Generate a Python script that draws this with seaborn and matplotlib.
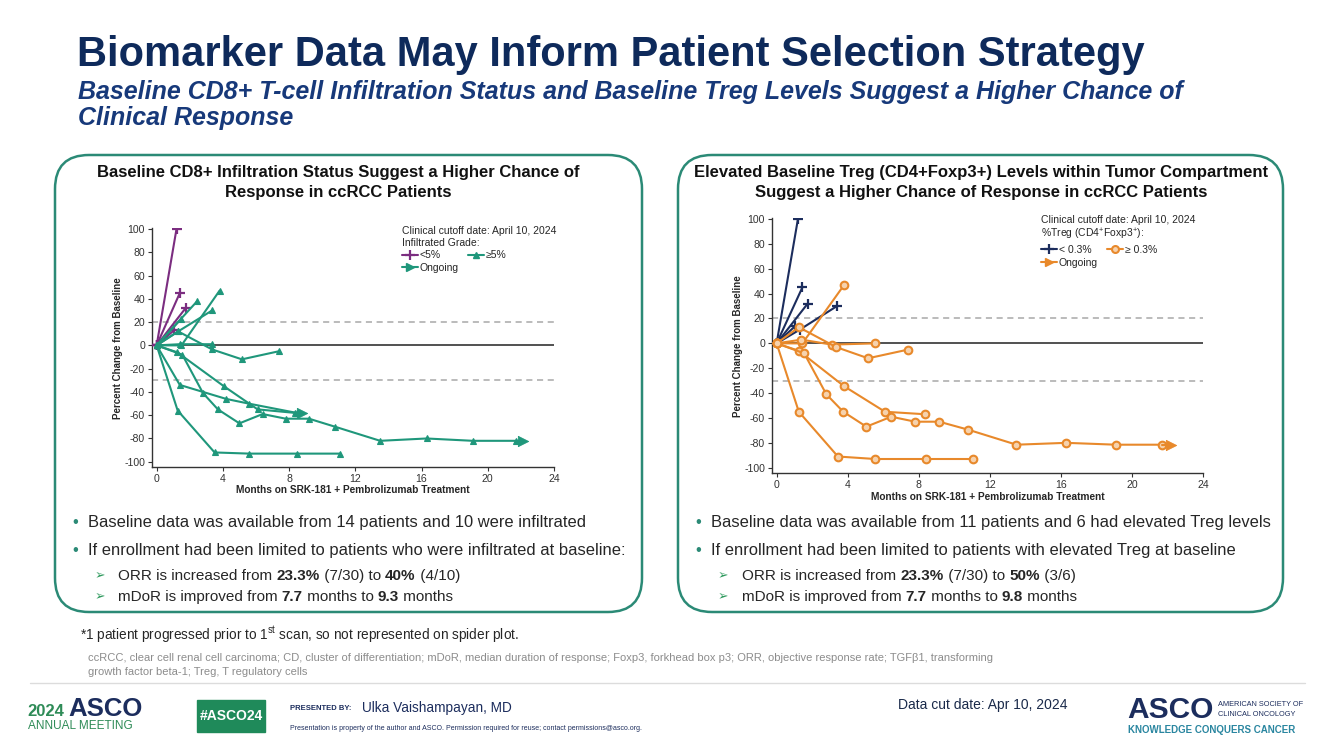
import numpy as np
import pandas as pd
import matplotlib
matplotlib.use("Agg")
import matplotlib.pyplot as plt
from matplotlib.patches import FancyBboxPatch, Rectangle
from matplotlib.lines import Line2D
import seaborn as sns

sns.set_theme(style="ticks")
plt.rcParams["font.family"] = ["Liberation Sans", "DejaVu Sans"]
plt.rcParams["axes.unicode_minus"] = False
plt.rcParams["mathtext.fontset"] = "custom"
plt.rcParams["mathtext.rm"] = "Liberation Sans"
plt.rcParams["mathtext.it"] = "Liberation Sans:italic"
plt.rcParams["mathtext.bf"] = "Liberation Sans:bold"
NARROW = ["Liberation Sans Narrow", "Liberation Sans", "DejaVu Sans"]

# ---------------------------------------------------------
# DATA
# ---------------------------------------------------------
# Left: CD8+ infiltration grade
cd8_months = [
    [0, 1.2], [0, 1.4], [0, 1.75], [0, 1.05],
    [0, 1.5], [0, 2.45], [0, 1.5, 3.8], [0, 1.3, 3.35],
    [0, 1.3, 3.35, 5.15, 7.4], [0, 1.4, 3.35],
    [0, 1.25, 4.05, 6.1, 8.35],
    [0, 1.4, 4.2, 5.55, 8.45],
    [0, 1.55, 2.8, 3.7, 5.0, 6.4, 7.8, 9.2, 10.8, 13.5, 16.3, 19.1, 21.7],
    [0, 1.27, 3.5, 5.6, 8.45, 11.1],
]
cd8_pct = [
    [0, 100], [0, 45], [0, 32], [0, 13],
    [0, 23], [0, 38], [0, 0, 47], [0, 12, 30],
    [0, 12, -3.5, -12, -5], [0, 1, 1],
    [0, -6, -35, -55, -58],
    [0, -34, -46, -50, -58],
    [0, -8, -41, -55, -67, -59, -63, -63, -70, -82, -80, -82, -82],
    [0, -56, -92, -93, -93, -93],
]
cd8_group = ["<5%"] * 4 + ["≥5%"] * 10
cd8_ongoing = [None] * 11 + [8.75, 22.15, None]

# Right: %Treg (CD4+Foxp3+)
treg_months = [
    [0, 1.2], [0, 1.45], [0, 1.75], [0, 1.3, 3.4], [0, 1.05],
    [0, 1.45, 3.8], [0, 1.4, 3.1, 5.55], [0, 1.25, 3.35, 5.15, 7.4],
    [0, 1.25, 3.8, 6.1, 8.35],
    [0, 1.55, 2.8, 3.75, 5.05, 6.45, 7.8, 9.15, 10.8, 13.5, 16.3, 19.1, 21.7],
    [0, 1.25, 3.45, 5.55, 8.4, 11.05],
]
treg_pct = [
    [0, 100], [0, 45], [0, 32], [0, 11, 30], [0, 14],
    [0, 0, 47], [0, 3, -1, 0], [0, 13, -3, -12, -5],
    [0, -6, -34.5, -55, -57],
    [0, -8, -41, -55, -67, -59, -63, -63, -69.5, -81.5, -80, -81.5, -81.5],
    [0, -55, -91, -93, -93, -93],
]
treg_group = ["< 0.3%"] * 5 + ["≥ 0.3%"] * 6
treg_ongoing = [None] * 9 + [22.2, None]

x_ticks = [0, 4, 8, 12, 16, 20, 24]
y_ticks = list(range(-100, 101, 20))
ref_lines = [20, -30]

# colours
TITLE = "#0e2a5b"
SUB = "#17397a"
BOX = "#2b8a76"
PURPLE = "#7b2d80"
GREEN = "#1f977b"
NAVY = "#1c2d5d"
ORANGE = "#e8892b"
TXT = "#262626"

W, H = 1333, 749
fig = plt.figure(figsize=(W / 100, H / 100), dpi=100)
fig.patch.set_facecolor("white")
renderer = fig.canvas.get_renderer()


def fx(x):
    return x / W


def fy(y):
    return 1 - y / H


def txt(x, y, s, **kw):
    kw.setdefault("va", "center")
    return fig.text(fx(x), fy(y), s, **kw)


def run_width(s, **kw):
    t = fig.text(0, 0, s + "|", **kw)
    w1 = t.get_window_extent(renderer).width
    t.remove()
    t = fig.text(0, 0, "|", **kw)
    w2 = t.get_window_extent(renderer).width
    t.remove()
    return w1 - w2


def rich(x, y, runs, size, color=TXT):
    for s, bold in runs:
        kw = dict(fontsize=size, color=color, fontweight="bold" if bold else "normal")
        txt(x, y, s, **kw)
        x += run_width(s, **kw)


def rbox(x0, y0, x1, y1):
    p = FancyBboxPatch((x0 / 100, (H - y1) / 100), (x1 - x0) / 100, (y1 - y0) / 100,
                       boxstyle="round,pad=0,rounding_size=0.34",
                       transform=fig.dpi_scale_trans, fc="none", ec=BOX, lw=1.8)
    fig.add_artist(p)


def add_ax(l, r, t, b):
    return fig.add_axes([fx(l), fy(b), (r - l) / W, (b - t) / H])


def spider(ax, months, pct, group, ongoing, styles, xmin, ymax):
    rows = []
    for i, (m, p, g) in enumerate(zip(months, pct, group)):
        for a, b in zip(m, p):
            rows.append(dict(patient=i, month=a, pct=b, group=g))
    df = pd.DataFrame(rows)

    ax.axhline(0, color="#222222", lw=1.1, zorder=1)
    for yv in ref_lines:
        ax.axhline(yv, color="#a8a8a8", lw=1.1, ls=(0, (4, 3)), zorder=1)

    for g, st in styles.items():
        sub = df[df["group"] == g]
        sns.lineplot(data=sub, x="month", y="pct", units="patient", estimator=None,
                     sort=False, color=st["color"], lw=1.5, marker=st["marker"],
                     ms=st["ms"], mew=st["mew"], mec=st["color"], mfc=st["mfc"],
                     ax=ax, legend=False, zorder=3)

    # ongoing arrows
    for m, p, g, arr in zip(months, pct, group, ongoing):
        if arr is None:
            continue
        c = styles[g]["color"]
        ax.plot([m[-1], arr], [p[-1], p[-1]], color=c, lw=1.5, zorder=3)
        sns.scatterplot(x=[arr], y=[p[-1]], marker=">", s=55, color=c, ec=c,
                        ax=ax, legend=False, zorder=4)

    ax.set_xlim(xmin, 24)
    ax.set_ylim(-104.5, ymax)
    ax.set_xticks(x_ticks)
    ax.set_yticks(y_ticks)
    sns.despine(ax=ax)
    for s in ("left", "bottom"):
        ax.spines[s].set_color("#333333")
        ax.spines[s].set_linewidth(1.0)
    ax.tick_params(labelsize=7.6, length=3, width=0.8, color="#333333",
                   labelcolor="#333333", pad=2)
    ax.set_xlabel("Months on SRK-181 + Pembrolizumab Treatment", fontsize=7.3,
                  fontweight="bold", color="#262626", labelpad=1)
    ax.set_ylabel("Percent Change from Baseline", fontsize=7.0, fontweight="bold",
                  color="#262626", labelpad=1)
    ax.set_facecolor("none")
    ax.grid(False)


# ---------------------------------------------------------
# TITLES
# ---------------------------------------------------------
txt(77, 55, "Biomarker Data May Inform Patient Selection Strategy", fontsize=30,
    fontweight="bold", color=TITLE)
txt(78, 92, "Baseline CD8+ T-cell Infiltration Status and Baseline Treg Levels Suggest a Higher Chance of",
    fontsize=18, fontweight="bold", style="italic", color=SUB)
txt(78, 118, "Clinical Response", fontsize=18, fontweight="bold", style="italic", color=SUB)

# ---------------------------------------------------------
# PANEL BOXES
# ---------------------------------------------------------
rbox(55, 155, 642, 612)
rbox(678, 155, 1283, 612)

txt(338, 173, "Baseline CD8+ Infiltration Status Suggest a Higher Chance of",
    ha="center", fontsize=12, fontweight="bold", color="#111111", family=NARROW)
txt(338, 193, "Response in ccRCC Patients", ha="center", fontsize=12,
    fontweight="bold", color="#111111", family=NARROW)
txt(981, 173, "Elevated Baseline Treg (CD4+Foxp3+) Levels within Tumor Compartment",
    ha="center", fontsize=12, fontweight="bold", color="#111111", family=NARROW)
txt(981, 193, "Suggest a Higher Chance of Response in ccRCC Patients", ha="center",
    fontsize=12, fontweight="bold", color="#111111", family=NARROW)

# ---------------------------------------------------------
# SPIDER PLOTS
# ---------------------------------------------------------
ax1 = add_ax(152, 554, 228.4, 467)
spider(ax1, cd8_months, cd8_pct, cd8_group, cd8_ongoing,
       {"<5%": dict(color=PURPLE, marker="+", ms=6.5, mew=1.6, mfc=PURPLE),
        "≥5%": dict(color=GREEN, marker="^", ms=4, mew=0.8, mfc=GREEN)},
       -0.28, 100.5)

ax2 = add_ax(772, 1203, 218.4, 473.3)
spider(ax2, treg_months, treg_pct, treg_group, treg_ongoing,
       {"< 0.3%": dict(color=NAVY, marker="+", ms=6.5, mew=1.6, mfc=NAVY),
        "≥ 0.3%": dict(color=ORANGE, marker="o", ms=5.5, mew=1.5, mfc="#f6d2ad")},
       -0.26, 100.5)

# legends
leg_kw = dict(ncol=2, loc="upper left", frameon=False, fontsize=7.5, title_fontsize=7.5,
              alignment="left", handlelength=1.5, handletextpad=0.2, columnspacing=0.9,
              labelspacing=0.25, borderpad=0, borderaxespad=0)
h1 = Line2D([], [], color=PURPLE, marker="+", ms=6.5, mew=1.6, lw=1.5)
h2 = Line2D([], [], color=GREEN, marker="^", ms=4.5, lw=1.5)
h3 = Line2D([], [], color=GREEN, marker=">", ms=6, lw=1.5)
leg = ax1.legend([h1, h3, h2], ["<5%", "Ongoing", "≥5%"],
                 title="Clinical cutoff date: April 10, 2024\nInfiltrated Grade:",
                 bbox_to_anchor=(fx(402), fy(226)), bbox_transform=fig.transFigure, **leg_kw)
leg.get_title().set_color("#262626")

g1 = Line2D([], [], color=NAVY, marker="+", ms=6.5, mew=1.6, lw=1.5)
g2 = Line2D([], [], color=ORANGE, marker="o", ms=5, mew=1.5, mfc="#f6d2ad", lw=1.5)
g3 = Line2D([], [], color=ORANGE, marker=">", ms=6, lw=1.5)
leg2 = ax2.legend([g1, g3, g2], ["< 0.3%", "Ongoing", "≥ 0.3%"],
                  title="Clinical cutoff date: April 10, 2024\n%Treg (CD4$^{+}$Foxp3$^{+}$):",
                  bbox_to_anchor=(fx(1041), fy(215)), bbox_transform=fig.transFigure, **leg_kw)
leg2.get_title().set_color("#262626")

# ---------------------------------------------------------
# BULLETS
# ---------------------------------------------------------
BS = 11.9
SS = 11.0
for (bx, tx), lines in [((72, 88), ["Baseline data was available from 14 patients and 10 were infiltrated",
                                     "If enrollment had been limited to patients who were infiltrated at baseline:"]),
                        ((695, 711), ["Baseline data was available from 11 patients and 6 had elevated Treg levels",
                                      "If enrollment had been limited to patients with elevated Treg at baseline"])]:
    for yy, s in zip([522, 551], lines):
        txt(bx, yy, "•", fontsize=BS, color=BOX)
        txt(tx, yy, s, fontsize=BS, color=TXT)

for bx, tx, runs1, runs2 in [
    (95, 118,
     [("ORR is increased from ", False), ("23.3%", True), (" (7/30) to ", False), ("40%", True), (" (4/10)", False)],
     [("mDoR is improved from ", False), ("7.7", True), (" months to ", False), ("9.3", True), (" months", False)]),
    (718, 742,
     [("ORR is increased from ", False), ("23.3%", True), (" (7/30) to ", False), ("50%", True), (" (3/6)", False)],
     [("mDoR is improved from ", False), ("7.7", True), (" months to ", False), ("9.8", True), (" months", False)])]:
    for yy, runs in zip([576, 597], [runs1, runs2]):
        txt(bx, yy, "➢", fontsize=9, color="#2f9a5e", family=["DejaVu Sans"])
        rich(tx, yy, runs, SS)

# ---------------------------------------------------------
# FOOTNOTES
# ---------------------------------------------------------
txt(80, 635, "*1 patient progressed prior to 1$^{\\mathrm{st}}$ scan, so not represented on spider plot.",
    fontsize=9.8, color=TXT)
txt(88, 658, "ccRCC, clear cell renal cell carcinoma; CD, cluster of differentiation; mDoR, median duration "
    "of response; Foxp3, forkhead box p3; ORR, objective response rate; TGFβ1, transforming",
    fontsize=8.0, color="#8c8c8c")
txt(88, 672, "growth factor beta-1; Treg, T regulatory cells", fontsize=8.0, color="#8c8c8c")

# ---------------------------------------------------------
# FOOTER
# ---------------------------------------------------------
fig.add_artist(Line2D([fx(30), fx(1305)], [fy(683), fy(683)], color="#dcdcdc", lw=1,
                      transform=fig.transFigure))
txt(27, 711, "2024", fontsize=12, fontweight="bold", color="#2e8b57", family=NARROW)
txt(68, 709, "ASCO", fontsize=18.5, fontweight="bold", color=NAVY, family=NARROW)
txt(28, 726, "ANNUAL MEETING", fontsize=8.5, color="#2e8b57", family=NARROW)
fig.add_artist(Rectangle((fx(197), fy(732)), (265 - 197) / W, (732 - 700) / H,
                         transform=fig.transFigure, color="#1f8a5a"))
txt(231, 716, "#ASCO24", ha="center", fontsize=10, fontweight="bold", color="white", family=NARROW)
txt(290, 708, "PRESENTED BY:", fontsize=5.5, fontweight="bold", color=NAVY)
txt(362, 708, "Ulka Vaishampayan, MD", fontsize=9.8, color=NAVY, family=NARROW)
txt(290, 729, "Presentation is property of the author and ASCO. Permission required for reuse; "
    "contact permissions@asco.org.", fontsize=5, color=NAVY)
txt(898, 705, "Data cut date: Apr 10, 2024", fontsize=10, color="#1a2a4a", family=NARROW)
txt(1127, 710, "ASCO", fontsize=21.5, fontweight="bold", color=NAVY, family=NARROW)
txt(1218, 704, "AMERICAN SOCIETY OF", fontsize=5.3, color=NAVY, family=NARROW)
txt(1218, 714, "CLINICAL ONCOLOGY", fontsize=5.3, color=NAVY, family=NARROW)
txt(1128, 730, "KNOWLEDGE CONQUERS CANCER", fontsize=7, fontweight="bold", color="#2a86a0",
    family=NARROW)

fig.savefig("out.png", dpi=100)
